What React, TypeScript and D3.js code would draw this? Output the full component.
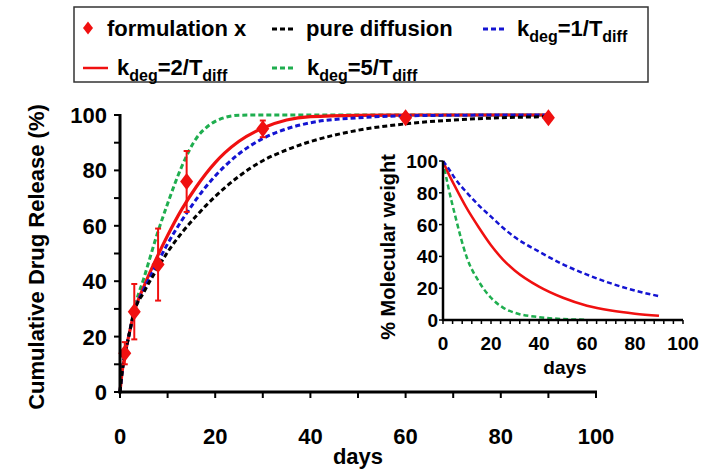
import React from "react";
import * as d3 from "d3";

/* DATA */
// main chart: cumulative release (%) vs days
const days = [0, 0.5, 1, 2, 3, 5, 8, 10, 13, 16, 18, 20, 22, 25, 30, 35, 40, 50, 60, 70, 80, 90];
const pureDiffusion = [0, 8, 13, 21.5, 29, 36, 45, 50.5, 57.5, 63.5, 67.2, 70.6, 73.7, 77.9, 83.5, 87.4, 90.4, 94.5, 96.8, 98.2, 99, 99.4];
const kdeg1 = [0, 8, 13, 21.5, 29, 37, 47, 53.5, 62, 69.5, 74, 78, 81.5, 86, 91.5, 95, 97.2, 99, 99.7, 99.9, 100, 100];
const kdeg2 = [0, 8, 13, 21.5, 29, 38, 49.5, 56.5, 66, 74, 78.7, 82.8, 86.3, 90.5, 95.3, 98.2, 99.4, 99.9, 100, 100, 100, 100];
const kdeg5 = [0, 8, 13, 21.5, 30, 41, 58, 68, 81.5, 91.5, 95.3, 97.7, 99.1, 99.9, 100, 100, 100, 100, 100, 100, 100, 100];

// measured points
const formDays = [1, 3, 8, 14, 30, 60, 90];
const formRelease = [14, 29, 46, 76, 95, 99, 99];
const formErr = [4, 10, 13, 11, 3, 1, 0.5];

// inset: % molecular weight vs days
const inDays = [0, 2, 5, 10, 15, 20, 25, 30, 40, 50, 60, 70, 80, 90];
const mw1 = [100, 96, 89, 80, 72, 65, 58, 52, 43, 35, 28.5, 23, 18.5, 15];
const mw2 = [100, 93, 84, 70, 58, 47, 38, 31, 21, 14, 9, 6, 4, 2.6];
const mw5 = [100, 85, 66, 39, 24, 14, 7.8, 4.5, 1.8, 0.6, 0.2];

const mainXTicks = [0, 20, 40, 60, 80, 100];
const mainYTicks = [0, 20, 40, 60, 80, 100];
const inXTicks = [0, 20, 40, 60, 80, 100];
const inYTicks = [0, 20, 40, 60, 80, 100];

const RED = "#f01010";
const BLUE = "#1414d2";
const GREEN = "#1fae4f";
const FONT = "'Liberation Sans', Arial, sans-serif";

function App() {
  const x = d3.scaleLinear().domain([0, 100]).range([120, 596]);
  const y = d3.scaleLinear().domain([0, 100]).range([392, 115]);
  const xi = d3.scaleLinear().domain([0, 100]).range([443, 683]);
  const yi = d3.scaleLinear().domain([0, 100]).range([320, 161]);

  const mainLine = (vals: number[]) =>
    d3
      .line<number>()
      .x((d, i) => x(days[i]))
      .y((d) => y(d))
      .curve(d3.curveMonotoneX)(vals) as string;
  const inLine = (vals: number[]) =>
    d3
      .line<number>()
      .x((d, i) => xi(inDays[i]))
      .y((d) => yi(d))
      .curve(d3.curveMonotoneX)(vals) as string;

  const diamond = (cx: number, cy: number, w: number, h: number) =>
    `M${cx},${cy - h}L${cx + w},${cy}L${cx},${cy + h}L${cx - w},${cy}Z`;

  const minorMain = d3.range(0, 101, 10);
  const minorInX = d3.range(0, 101, 4);

  const sub = (t: string) => (
    <tspan fontSize={16} dy={6}>
      {t}
    </tspan>
  );
  const kLabel = (n: string, lx: number, ly: number) => (
    <text x={lx} y={ly}>
      k{sub("deg")}
      <tspan dy={-6}>{"=" + n + "/T"}</tspan>
      {sub("diff")}
    </text>
  );

  return (
    <svg width={712} height={470} style={{ position: "absolute", left: 0, top: 0 }} fontFamily={FONT} fontWeight="bold">
      <rect width={712} height={470} fill="#fff" />

      {/* legend */}
      <g fontSize={22} fill="#000">
        <rect x={74} y={7} width={574} height={75} fill="none" stroke="#333" strokeWidth={1.5} />
        <path d={diamond(88, 28, 5, 6.5)} fill={RED} />
        <text x={107} y={36}>formulation x</text>
        <line x1={272} x2={296} y1={29} y2={29} stroke="#000" strokeWidth={3} strokeDasharray="5,3" />
        <text x={306} y={36}>pure diffusion</text>
        <line x1={483} x2={504} y1={29} y2={29} stroke={BLUE} strokeWidth={3} strokeDasharray="5,3" />
        {kLabel("1", 517, 36)}
        <line x1={83} x2={108} y1={68} y2={68} stroke={RED} strokeWidth={2.5} />
        {kLabel("2", 117, 75)}
        <line x1={272} x2={296} y1={68} y2={68} stroke={GREEN} strokeWidth={3} strokeDasharray="5,3" />
        {kLabel("5", 307, 75)}
      </g>

      {/* main curves */}
      <g fill="none" strokeWidth={3}>
        <path d={mainLine(kdeg5)} stroke={GREEN} strokeDasharray="5,3" />
        <path d={mainLine(kdeg2)} stroke={RED} strokeWidth={3.2} />
        <path d={mainLine(kdeg1)} stroke={BLUE} strokeDasharray="5,3" />
        <path d={mainLine(pureDiffusion)} stroke="#000" strokeDasharray="5,3" />
      </g>

      {/* measured points with error bars */}
      <g stroke={RED} strokeWidth={2}>
        {formDays.map((d, i) => (
          <g key={i}>
            <line x1={x(d)} x2={x(d)} y1={y(formRelease[i] - formErr[i])} y2={y(formRelease[i] + formErr[i])} />
            <line x1={x(d) - 3} x2={x(d) + 3} y1={y(formRelease[i] + formErr[i])} y2={y(formRelease[i] + formErr[i])} />
            <line x1={x(d) - 3} x2={x(d) + 3} y1={y(formRelease[i] - formErr[i])} y2={y(formRelease[i] - formErr[i])} />
            <path d={diamond(x(d), y(formRelease[i]), 6.5, 8.5)} fill={RED} stroke="none" />
          </g>
        ))}
      </g>

      {/* main axes */}
      <g stroke="#000">
        <line x1={x(0)} x2={x(0)} y1={y(100) - 1} y2={y(0) + 1.5} strokeWidth={3} />
        <line x1={x(0) - 1.5} x2={x(100) + 1} y1={y(0)} y2={y(0)} strokeWidth={3} />
        {minorMain.map((t) => (
          <line key={"mx" + t} x1={x(t)} x2={x(t)} y1={y(0)} y2={y(0) + 6} strokeWidth={2} />
        ))}
        {minorMain.map((t) => (
          <line key={"my" + t} x1={x(0) - 6} x2={x(0)} y1={y(t)} y2={y(t)} strokeWidth={2} />
        ))}
      </g>
      <g fontSize={22} fill="#000">
        {mainXTicks.map((t) => (
          <text key={"xl" + t} x={x(t)} y={444} textAnchor="middle">
            {t}
          </text>
        ))}
        {mainYTicks.map((t) => (
          <text key={"yl" + t} x={107} y={y(t) + 8} textAnchor="end">
            {t}
          </text>
        ))}
        <text x={358} y={464} textAnchor="middle">
          days
        </text>
        <text transform="translate(44,257) rotate(-90)" textAnchor="middle">
          Cumulative Drug Release (%)
        </text>
      </g>

      {/* inset */}
      <g fill="none" strokeWidth={2.5}>
        <path d={inLine(mw5)} stroke={GREEN} strokeDasharray="5,3" />
        <path d={inLine(mw2)} stroke={RED} />
        <path d={inLine(mw1)} stroke={BLUE} strokeDasharray="5,3" />
      </g>
      <g stroke="#000">
        <line x1={xi(0)} x2={xi(0)} y1={yi(100)} y2={yi(0) + 1} strokeWidth={2.5} />
        <line x1={xi(0) - 1} x2={xi(100)} y1={yi(0)} y2={yi(0)} strokeWidth={2.5} />
        {minorInX.map((t) => (
          <line key={"ix" + t} x1={xi(t)} x2={xi(t)} y1={yi(0)} y2={yi(0) + 4} strokeWidth={1.5} />
        ))}
        {inYTicks.map((t) => (
          <line key={"iy" + t} x1={xi(0) - 4} x2={xi(0)} y1={yi(t)} y2={yi(t)} strokeWidth={1.5} />
        ))}
      </g>
      <g fontSize={19} fill="#000">
        {inXTicks.map((t) => (
          <text key={"ixl" + t} x={xi(t)} y={350} textAnchor="middle">
            {t}
          </text>
        ))}
        {inYTicks.map((t) => (
          <text key={"iyl" + t} x={438} y={yi(t) + 7} textAnchor="end">
            {t}
          </text>
        ))}
        <text x={565} y={374} textAnchor="middle">
          days
        </text>
        <text transform="translate(395,247) rotate(-90)" textAnchor="middle" fontSize={20}>
          % Molecular weight
        </text>
      </g>
    </svg>
  );
}

export default App;
